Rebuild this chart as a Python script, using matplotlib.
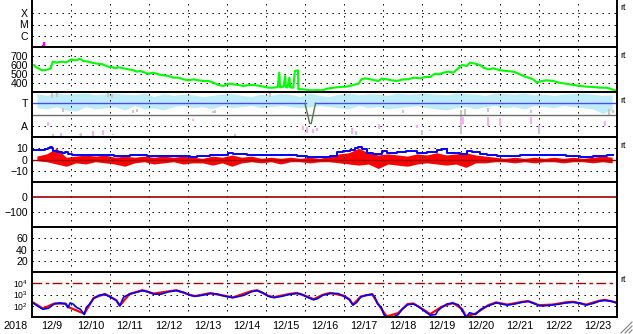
import numpy as np
import matplotlib
matplotlib.use('Agg')
import matplotlib.pyplot as plt
import matplotlib.dates as mdates
from matplotlib.lines import Line2D
from matplotlib.ticker import FuncFormatter, NullLocator

plt.rcParams['font.family'] = ['Liberation Sans', 'DejaVu Sans']
plt.rcParams['mathtext.fontset'] = 'custom'
plt.rcParams['mathtext.rm'] = 'Liberation Sans'

# time axis: days since 2018-12-09 00:00
start = np.datetime64('2018-12-09T00:00')
ndays = 15

# X-ray flux (only a few blips above the panel floor)
xray_t = [0.08, 0.15, 0.28, 0.30, 0.64, 0.87, 6.56]
xray_flux = [1.2e-7, 1.3e-7, 1.5e-7, 2.8e-7, 1.3e-7, 1.2e-7, 1.3e-7]

# solar wind speed (km/s)
sw_t = [0.00, 0.05, 0.08, 0.16, 0.25, 0.33, 0.42, 0.48, 0.53, 0.63, 0.76, 0.89, 0.96, 1.02,
        1.06, 1.15, 1.23, 1.32, 1.44, 1.53, 1.66, 1.79, 1.87, 1.96, 2.04, 2.13, 2.21, 2.34,
        2.47, 2.60, 2.68, 2.77, 2.90, 2.98, 3.11, 3.24, 3.37, 3.50, 3.62, 3.75, 3.88, 4.01,
        4.14, 4.27, 4.39, 4.52, 4.65, 4.78, 4.91, 5.03, 5.16, 5.29, 5.42, 5.55, 5.68, 5.85,
        5.97, 6.06, 6.19, 6.30, 6.34, 6.36, 6.45, 6.49, 6.51, 6.55, 6.60, 6.62, 6.70, 6.74,
        6.82, 6.83, 6.96, 7.13, 7.30, 7.47, 7.56, 7.73, 7.90, 8.07, 8.24, 8.37, 8.45, 8.54,
        8.67, 8.80, 8.88, 8.97, 9.09, 9.22, 9.35, 9.52, 9.65, 9.78, 9.95, 10.08, 10.21, 10.33,
        10.42, 10.55, 10.68, 10.80, 10.93, 11.02, 11.15, 11.23, 11.36, 11.49, 11.57, 11.70,
        11.83, 12.00, 12.17, 12.34, 12.47, 12.60, 12.73, 12.85, 12.94, 13.07, 13.20, 13.37,
        13.50, 13.67, 13.88, 14.05, 14.22, 14.39, 14.56, 14.74, 14.86, 14.95]
sw_speed = [590, 600, 581, 563, 541, 544, 552, 563, 637, 626, 637, 630, 652, 663,
            652, 655, 670, 644, 637, 626, 615, 610, 596, 580, 578, 563, 575, 563,
            552, 541, 526, 533, 515, 504, 515, 496, 485, 478, 459, 459, 441, 430,
            441, 430, 422, 422, 404, 378, 367, 393, 385, 378, 367, 378, 378, 367,
            356, 348, 348, 356, 515, 352, 360, 478, 355, 350, 460, 352, 348, 533,
            541, 330, 330, 318, 320, 320, 337, 348, 356, 360, 378, 393, 441, 452,
            441, 430, 422, 448, 441, 430, 422, 441, 441, 459, 452, 467, 467, 504,
            496, 515, 526, 515, 563, 600, 589, 626, 615, 600, 570, 552,
            563, 541, 533, 526, 504, 478, 459, 441, 404, 422, 430, 422,
            404, 393, 378, 367, 359, 356, 348, 348, 330, 318]

# T / A panel
ta_bin_t = [0.125 + 0.25 * k for k in range(60)]
ta_cyan_hi = [3.85, 3.7, 3.9, 3.8, 3.85, 3.9, 3.75, 3.85, 3.9, 3.8, 3.75, 3.9, 3.6, 3.85, 3.7,
              3.8, 3.75, 3.6, 3.7, 3.8, 3.85, 3.7, 3.6, 3.8, 3.7, 3.85, 3.8, 3.6, 3.9, 3.7,
              3.6, 3.8, 3.9, 3.75, 3.85, 3.8, 3.7, 3.9, 3.8, 3.85, 3.9, 3.8, 3.75, 3.9, 3.85,
              3.8, 3.7, 3.9, 3.85, 3.8, 3.9, 3.75, 3.8, 3.7, 3.8, 3.85, 3.9, 3.8, 3.7, 3.75]
ta_cyan_lo = [2.6, 2.5, 2.7, 2.4, 2.3, 2.7, 2.5, 2.6, 2.7, 2.4, 2.8, 2.5, 2.6, 2.4, 2.7,
              2.8, 2.6, 2.7, 2.5, 2.8, 2.6, 2.7, 2.8, 2.6, 2.7, 2.8, 2.7, 2.6, 2.7, 2.8,
              2.7, 2.6, 2.5, 2.8, 2.6, 2.7, 2.5, 2.6, 2.7, 2.8, 2.6, 2.5, 2.4, 2.6, 2.7,
              2.5, 2.7, 2.8, 2.6, 2.7, 2.5, 2.8, 2.7, 2.6, 2.8, 2.7, 2.6, 2.5, 2.1, 2.4]
gray_t = [0.50, 0.65, 0.80, 0.55, 1.25, 1.95, 2.05, 2.60, 2.70, 4.65, 4.70, 5.20, 6.10,
          8.30, 9.50, 10.0, 11.0, 11.1, 11.7, 12.8, 13.0, 14.8, 14.9]
gray_lo = [3.5, 3.6, 2.2, 0.1, 0.1, 3.6, 3.5, 2.1, 2.2, 2.1, 2.1, 0.1, 3.6,
           0.2, 2.1, 0.2, 0.3, 2.0, 2.2, 2.1, 0.3, 2.0, 2.1]
gray_hi = [3.9, 3.9, 2.6, 0.3, 0.35, 3.9, 3.85, 2.4, 2.5, 2.3, 2.4, 0.3, 3.9,
           0.5, 2.4, 0.6, 2.4, 2.5, 2.6, 2.4, 0.6, 2.5, 2.4]
pink_t = [0.42, 0.75, 1.23, 1.57, 1.83, 2.08, 4.14, 6.95, 7.05, 7.20, 7.30, 8.20, 8.90,
          9.86, 10.2, 11.0, 11.05, 11.7, 12.0, 12.8, 13.0, 14.7]
pink_lo = [1.0, 0.1, 0.2, 0.1, 0.2, 0.2, 1.4, 0.6, 0.4, 0.4, 0.5, 0.3, 0.7,
           0.8, 0.5, 1.0, 1.2, 1.0, 1.0, 1.2, 0.6, 1.0]
pink_hi = [1.3, 0.4, 0.3, 0.5, 0.6, 0.3, 1.6, 1.0, 0.9, 0.7, 0.8, 0.8, 1.2,
           1.1, 0.6, 1.5, 1.8, 1.8, 1.7, 1.8, 1.1, 1.4]
ratio_t = [0.0, 7.02, 7.02, 7.26, 7.26, 15.0]
ratio_v = [3.0, 3.0, np.nan, np.nan, 3.0, 3.0]
dip_t = [7.00, 7.12, 7.16, 7.27]
dip_v = [3.0, 1.2, 1.2, 3.0]

# IMF Bt / Bz (nT)
bt_t = [0.03, 0.21, 0.33, 0.42, 0.46, 0.50, 0.55, 0.63, 0.76, 0.85, 0.93, 1.02, 1.15, 1.66,
        2.09, 2.51, 2.94, 3.37, 3.88, 4.05, 4.22, 4.56, 4.91, 5.03, 5.16, 5.50, 5.93, 6.27,
        6.62, 6.79, 7.04, 7.30, 7.64, 7.81, 7.98, 8.15, 8.28, 8.37, 8.45, 8.58, 8.75, 8.97,
        9.09, 9.35, 9.60, 9.86, 10.12, 10.38, 10.50, 10.63, 10.97, 11.15, 11.28, 11.49, 11.66,
        11.92, 12.17, 12.51, 12.85, 13.03, 13.37, 13.70, 14.05, 14.39, 14.74, 14.90]
bt = [8.3, 8.3, 9.2, 10.5, 11.4, 9.8, 7.4, 6.8, 6.2, 6.8, 5.2, 4.3, 4.3, 3.7,
      3.1, 3.7, 3.1, 3.1, 2.8, 2.2, 3.1, 4.3, 4.3, 6.2, 4.9, 4.3, 4.3, 3.7,
      3.7, 3.1, 2.2, 2.2, 3.1, 6.8, 7.4, 8.3, 10.5, 11.4, 9.2, 6.2, 5.2, 7.4,
      6.2, 6.8, 7.4, 6.2, 6.8, 8.3, 9.2, 6.2, 5.2, 7.4, 6.8, 5.2, 4.3,
      3.1, 3.1, 3.7, 3.7, 4.3, 4.3, 3.1, 2.2, 3.1, 4.3, 3.7]
bz_hi = [3, 5, 10, 2, 3, 4, 3, 4, 2, 3, 2, 3, 2, 3, 2, 3, 2, 1, 3, 2, 4, 2, 3, 1, 2, 1, 2, 1, 2, 1,
         3, 5, 6, 10, 6, 4, 5, 4, 3, 5, 4, 6, 4, 5, 6, 4, 3, 2, 1, 2, 1, 2, 1, 2, 1, 2, 1, 2, 3, 2]
bz_lo = [-1, -2, -4, -6, -3, -4, -2, -3, -4, -6, -3, -2, -4, -3, -2, -4, -3, -3, -5, -3, -6, -3,
         -2, -3, -2, -4, -2, -2, -3, -2,
         -2, -3, -4, -5, -4, -8, -4, -5, -6, -4, -3, -4, -5, -4, -7, -3, -3, -2, -2, -3, -2, -3,
         -2, -2, -3, -2, -2, -3, -2, -3]

# electron flux (log10)
ef_t = [0.0, 0.13, 0.28, 0.42, 0.57, 0.71, 0.86, 0.92, 0.98, 1.05, 1.15, 1.24, 1.34, 1.39,
        1.48, 1.58, 1.72, 1.87, 2.01, 2.16, 2.25, 2.35, 2.50, 2.64, 2.83, 2.98, 3.12, 3.31,
        3.51, 3.70, 3.89, 4.04, 4.18, 4.38, 4.57, 4.76, 4.95, 5.15, 5.24, 5.44, 5.63, 5.77,
        5.92, 6.06, 6.21, 6.40, 6.59, 6.79, 6.93, 7.08, 7.22, 7.32, 7.46, 7.65, 7.85, 7.99,
        8.14, 8.23, 8.33, 8.43, 8.57, 8.72, 8.79, 8.86, 8.96, 9.02, 9.10, 9.25, 9.39, 9.49,
        9.63, 9.78, 9.92, 10.06, 10.21, 10.35, 10.40, 10.50, 10.64, 10.79, 10.93, 11.03,
        11.13, 11.22, 11.37, 11.51, 11.70, 11.90, 12.04, 12.19, 12.38, 12.57, 12.72, 12.86,
        13.01, 13.15, 13.34, 13.54, 13.68, 13.87, 14.07, 14.21, 14.40, 14.55, 14.69, 14.84,
        14.98]
ef_blue = [2.31, 2.0, 1.69, 1.78, 2.16, 2.25, 2.16, 1.84, 2.25, 2.16, 1.84, 1.69, 1.22, 1.84,
           2.16, 2.63, 2.94, 3.0, 2.78, 2.47, 2.0, 2.78, 3.03, 3.16, 3.34, 3.25, 3.03, 3.03,
           3.25, 3.34, 3.19, 2.94, 2.84, 2.94, 3.09, 3.03, 2.84, 2.72, 2.78, 2.94, 3.25, 3.34,
           3.16, 2.84, 2.72, 2.84, 3.0, 3.09, 3.0, 2.72, 2.53, 2.63, 2.94, 3.09, 3.09, 2.84,
           2.53, 2.06, 2.31, 2.78, 2.94, 3.0, 2.78, 2.16, 1.84, 1.22, 0.97, 0.97, 1.22, 1.69,
           2.09, 2.16, 1.9, 1.53, 1.16, 1.22, 1.53, 1.84, 2.16, 2.22, 2.09, 1.59,
           0.97, 1.38, 1.22, 1.69, 2.0, 2.25, 2.16, 2.06, 2.16, 2.31, 2.38, 2.22,
           2.0, 2.0, 2.06, 2.16, 2.25, 2.31, 2.22, 2.06, 2.22, 2.41, 2.47, 2.41,
           2.25]
ef_red_t = [0.0, 0.28, 0.57, 0.86, 0.92, 1.34, 1.58, 1.87, 2.16, 2.25, 2.50, 2.83, 3.12, 3.50,
            3.70, 4.04, 4.18, 4.57, 4.95, 5.15, 5.63, 5.77, 6.06, 6.20, 6.59, 6.79, 7.08, 7.22,
            7.46, 7.65, 7.99, 8.14, 8.23, 8.43, 8.72, 8.86, 9.02, 9.10, 9.39, 9.63, 9.78, 10.06,
            10.21, 10.50, 10.79, 11.03, 11.13, 11.37, 11.70, 11.90, 12.19, 12.57, 12.72, 13.00,
            13.34, 13.68, 13.87, 14.21, 14.55, 14.69, 14.98]
ef_red = [2.35, 1.75, 2.2, 2.2, 1.9, 1.3, 2.7, 3.05, 2.5, 2.0, 3.05, 3.38, 3.08, 3.28,
          3.38, 2.98, 2.86, 3.12, 2.88, 2.74, 3.3, 3.38, 2.88, 2.76, 3.04, 3.14, 2.78, 2.58,
          2.98, 3.14, 2.9, 2.56, 2.1, 2.82, 3.04, 2.25, 1.4, 1.05, 1.35, 2.15, 2.2, 1.6,
          1.25, 1.9, 2.26, 1.7, 1.05, 1.3, 2.05, 2.3, 2.1, 2.35, 2.42, 2.05,
          2.1, 2.3, 2.35, 2.1, 2.45, 2.52, 2.3]


def when(days):
    return start + (np.asarray(days, dtype=float) * 1440).round().astype('timedelta64[m]')


W, H = 633, 334
edges = [-1, 47, 92, 137, 182, 227, 272, 317]
DOT = (0, (1.4, 4.6))
DKRED = '#a00000'

fig = plt.figure(figsize=(W / 100, H / 100), dpi=100)
axes = []
for top, bot in zip(edges[:-1], edges[1:]):
    ax = fig.add_axes([32 / W, 1 - bot / H, 585 / W, (bot - top) / H])
    ax.set_xlim(start, start + np.timedelta64(ndays, 'D'))
    for s in ax.spines.values():
        s.set_linewidth(1.4)
    ax.xaxis.set_major_locator(mdates.DayLocator())
    ax.grid(axis='x', which='major', color='black', linestyle=DOT, linewidth=0.72)
    ax.tick_params(axis='both', which='both', length=0, labelsize=7.6, pad=3)
    ax.tick_params(axis='x', labelbottom=False)
    axes.append(ax)
axes[0].spines['top'].set_visible(False)


def hgrid(ax, levels):
    for lv in levels:
        ax.axhline(lv, color='black', linestyle=DOT, linewidth=0.72, zorder=0.5)


# panel 1: X-ray class
ax = axes[0]
ax.set_yscale('log')
ax.set_ylim(1e-7, 10 ** (-7 + 48 / 11.25))
ax.set_yticks([1e-6, 1e-5, 1e-4], ['C', 'M', 'X'])
ax.yaxis.set_minor_locator(NullLocator())
hgrid(ax, [1e-6, 1e-5, 1e-4])
ax.vlines(when(xray_t), 1e-7, xray_flux, color='#ff00ff', linewidth=1.6)

# panel 2: solar wind speed
ax = axes[1]
ax.set_ylim(300, 800)
ax.set_yticks([400, 500, 600, 700])
hgrid(ax, [400, 500, 600, 700])
ax.plot(when(sw_t), sw_speed, color='#00ff00', linewidth=1.5)

# panel 3: T / A
ax = axes[2]
ax.set_ylim(0, 4)
ax.set_yticks([1, 3], ['A', 'T'])
hgrid(ax, [1])
ax.fill_between(when(ta_bin_t), ta_cyan_lo, ta_cyan_hi, color='#bfecf9', linewidth=0)
ax.vlines(when(gray_t), gray_lo, gray_hi, color='#c8c8c8', linewidth=1.5)
ax.vlines(when(pink_t), pink_lo, pink_hi, color='#f4b0f0', linewidth=1.5)
ax.axhline(2, color='#707070', linewidth=1.0)
ax.plot(when(ratio_t), ratio_v, color='#4a4af0', linewidth=1.0)
ax.plot(when(dip_t), dip_v, color='#4f7a4f', linewidth=1.0)

# panel 4: Bt / Bz
ax = axes[3]
ax.set_ylim(-20, 20)
ax.set_yticks([-10, 0, 10])
hgrid(ax, [-10, 10])
ax.step(when(bt_t), bt, where='post', color='#0000ff', linewidth=1.4)
ax.fill_between(when(ta_bin_t), bz_lo, bz_hi, color='#ff0000', linewidth=0)
ax.axhline(0, color=DKRED, linewidth=1.0)

# panel 5
ax = axes[4]
ax.set_ylim(-200, 100)
ax.set_yticks([-100, 0])
hgrid(ax, [-100])
ax.axhline(0, color=DKRED, linewidth=1.2)

# panel 6
ax = axes[5]
ax.set_ylim(0, 80)
ax.set_yticks([20, 40, 60])
hgrid(ax, [20, 40, 60])

# panel 7: electron flux
ax = axes[6]
ax.set_yscale('log')
ax.set_ylim(10, 1e5)
ax.set_yticks([1e2, 1e3, 1e4], [r'$10^2$', r'$10^3$', r'$10^4$'])
ax.yaxis.set_minor_locator(NullLocator())
ax.tick_params(axis='y', labelsize=6.2)
hgrid(ax, [1e2, 1e3])
ax.axhline(1e4, color=DKRED, linewidth=1.0, linestyle=(0, (7, 2.5, 2.5, 2.5)))
ax.plot(when(ef_red_t), 10 ** np.array(ef_red), color='#ff0000', linewidth=1.6)
ax.plot(when(ef_t), 10 ** np.array(ef_blue), color='#0000ff', linewidth=1.2)

ax.xaxis.set_minor_locator(mdates.HourLocator(byhour=[12]))
ax.xaxis.set_major_formatter(FuncFormatter(lambda v, p: ''))
ax.xaxis.set_minor_formatter(
    FuncFormatter(lambda v, p: f"{mdates.num2date(v).month}/{mdates.num2date(v).day}"))
ax.tick_params(axis='x', which='minor', labelbottom=True, labelsize=7.8, pad=3)

fig.text(15.5 / W, 1 - 326 / H, '2018', fontsize=7.8, ha='center', va='center')

for i in [0, 1, 2, 3, 6]:
    axes[i].text(1.006, 1 - 8 / 45, 'rt', transform=axes[i].transAxes,
                 fontsize=6.5, va='center', ha='left')

# resize grip in the corner
for k in range(3):
    x0 = (621 + 4 * k) / W
    fig.add_artist(Line2D([x0, 632 / W], [1 / H, (12 - 4 * k) / H],
                          transform=fig.transFigure, color='#808080', linewidth=0.8))

fig.savefig('out.png', dpi=100)
